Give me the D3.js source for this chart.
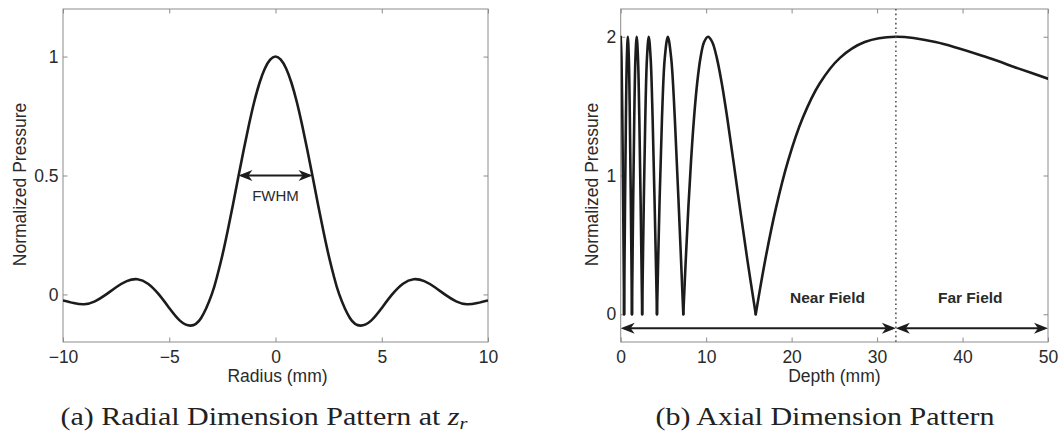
<!DOCTYPE html>
<html>
<head>
<meta charset="utf-8">
<script src="https://cdn.jsdelivr.net/npm/d3@7"></script>
<style>
    body { margin: 0; background: #fff; }
    svg { display: block; }
</style>
</head>
<body>
<script>
// (a) radial pressure profile at z_r
const radiusMm = [-10, -9.5, -9, -8.5, -8, -7.5, -7, -6.5, -6, -5.5, -5, -4.5, -4, -3.5, -3, -2.75, -2.5, -2.25, -2, -1.75, -1.5, -1.25, -1, -0.75, -0.5, -0.25,
    0, 0.25, 0.5, 0.75, 1, 1.25, 1.5, 1.75, 2, 2.25, 2.5, 2.75, 3, 3.5, 4, 4.5, 5, 5.5, 6, 6.5, 7, 7.5, 8, 8.5, 9, 9.5, 10];
const radialPressure = [-0.025, -0.036, -0.041, -0.029, -0.002, 0.03, 0.056, 0.064, 0.045, 0.001, -0.057, -0.11, -0.131, -0.099, 0, 0.075, 0.165, 0.268, 0.378, 0.494, 0.606, 0.713, 0.81, 0.89, 0.95, 0.987,
    1, 0.987, 0.95, 0.89, 0.81, 0.713, 0.606, 0.494, 0.378, 0.268, 0.165, 0.075, 0, -0.099, -0.131, -0.11, -0.057, 0.001, 0.045, 0.064, 0.056, 0.03, -0.002, -0.029, -0.041, -0.036, -0.025];
const radiusTicks = [-10, -5, 0, 5, 10];
const radialPressureTicks = [0, 0.5, 1];
const fwhmHalfWidth = 1.745;

// (b) axial pressure profile
const depthMm = [0, 0.094, 0.193, 0.294, 0.397,
    0.502, 0.61, 0.721, 0.833, 0.95, 1.07, 1.193, 1.319,
    1.451, 1.586, 1.727, 1.872, 2.022, 2.178, 2.342, 2.513,
    2.691, 2.878, 3.075, 3.282, 3.502, 3.734, 3.981, 4.245,
    4.528, 4.831, 5.159, 5.516, 5.905, 6.331, 6.802, 7.326,
    7.612, 7.914, 8.236, 8.578, 8.944, 9.337, 9.76, 10.216, 10.709, 11.246, 11.831, 12.47, 13.173, 13.954, 14.826, 15.803,
    16.907, 18.163, 19.61, 21.294, 23.281, 25.658, 28.559, 32.181, 36.831, 43.017, 46.5, 50];
const axialPressure = [2, 1.848, 1.414, 0.765, 0,
    0.765, 1.414, 1.848, 2, 1.848, 1.414, 0.765, 0,
    0.765, 1.414, 1.848, 2, 1.848, 1.414, 0.765, 0,
    0.765, 1.414, 1.848, 2, 1.848, 1.414, 0.765, 0,
    0.765, 1.414, 1.848, 2, 1.848, 1.414, 0.765, 0,
    0.39, 0.765, 1.111, 1.414, 1.663, 1.848, 1.962, 2, 1.962, 1.848, 1.663, 1.414, 1.111, 0.765, 0.39, 0,
    0.39, 0.765, 1.111, 1.414, 1.663, 1.848, 1.962, 2, 1.962, 1.848, 1.772, 1.698];
const depthTicks = [0, 10, 20, 30, 40, 50];
const axialPressureTicks = [0, 1, 2];
const nearFieldLimit = 32.2;
const fieldArrowLevel = -0.1;
const fieldNames = ["Near Field", "Far Field"];

const captionA = "(a) Radial Dimension Pattern at ";
const captionB = "(b) Axial Dimension Pattern";

const SANS = "'Liberation Sans', Arial, Helvetica, sans-serif";
const SERIF = "'Liberation Serif', 'Times New Roman', serif";
const INK = "#1c1c1c",
    FRAME = "#8c8c8c",
    LABEL = "#2a2a2a";
const FONT = 17.5;

const svg = d3.select("body").append("svg").attr("width", 1059).attr("height", 434);

const panelA = { left: 63, right: 488, top: 9, bottom: 342 };
const panelB = { left: 620.7, right: 1048, top: 9, bottom: 342 };

const xA = d3.scaleLinear().domain([-10, 10]).range([panelA.left, panelA.right]);
const yA = d3.scaleLinear().domain([-0.2, 1.2]).range([panelA.bottom, panelA.top]);
const xB = d3.scaleLinear().domain([0, 50]).range([panelB.left, panelB.right]);
const yB = d3.scaleLinear().domain([-0.2, 2.2]).range([panelB.bottom, panelB.top]);

const defs = svg.append("defs");

// swept-back arrow head, like the matlab annotation arrows
defs.append("marker")
    .attr("id", "head")
    .attr("markerUnits", "userSpaceOnUse")
    .attr("viewBox", "-15 -7 16 14")
    .attr("refX", -3)
    .attr("refY", 0)
    .attr("markerWidth", 16)
    .attr("markerHeight", 14)
    .attr("orient", "auto-start-reverse")
    .append("path")
    .attr("d", "M0,0 L-14,-5.5 L-10,0 L-14,5.5 Z")
    .attr("fill", INK);

const clip = (id, p) =>
    defs.append("clipPath").attr("id", id)
        .append("rect")
        .attr("x", p.left).attr("y", p.top)
        .attr("width", p.right - p.left).attr("height", p.bottom - p.top);
clip("clipA", panelA);
clip("clipB", panelB);

const addText = (x, y, str, size, opts = {}) =>
    svg.append("text")
        .attr("transform", `translate(${x},${y})${opts.rotate ? " rotate(-90)" : ""}`)
        .attr("text-anchor", "middle")
        .attr("font-family", opts.family || SANS)
        .attr("font-size", size)
        .attr("font-weight", opts.weight || "normal")
        .attr("fill", opts.fill || LABEL)
        .text(str);

const drawFrame = (p, x, y, xTicks, yTicks) => {
    const g = svg.append("g");
    const tick = 4.5;
    g.append("g").attr("transform", `translate(0,${p.bottom})`)
        .call(d3.axisBottom(x).tickValues(xTicks).tickSize(-tick).tickPadding(8.6).tickFormat(d3.format("")));
    g.append("g").attr("transform", `translate(0,${p.top})`)
        .call(d3.axisTop(x).tickValues(xTicks).tickSize(-tick).tickFormat(""));
    g.append("g").attr("transform", `translate(${p.left},0)`)
        .call(d3.axisLeft(y).tickValues(yTicks).tickSize(-tick).tickPadding(4.5).tickFormat(d3.format("")));
    g.append("g").attr("transform", `translate(${p.right},0)`)
        .call(d3.axisRight(y).tickValues(yTicks).tickSize(-tick).tickFormat(""));
    g.selectAll(".domain").remove();
    g.selectAll(".tick line").attr("stroke", FRAME);
    g.selectAll(".tick text")
        .attr("fill", LABEL)
        .attr("font-family", SANS)
        .attr("font-size", FONT);
    g.append("rect")
        .attr("x", p.left).attr("y", p.top)
        .attr("width", p.right - p.left).attr("height", p.bottom - p.top)
        .attr("fill", "none")
        .attr("stroke", FRAME)
        .attr("stroke-width", 1);
};

drawFrame(panelA, xA, yA, radiusTicks, radialPressureTicks);
drawFrame(panelB, xB, yB, depthTicks, axialPressureTicks);

// ---- (a) radial curve
const radialLine = d3.line()
    .x((d) => xA(d[0]))
    .y((d) => yA(d[1]))
    .curve(d3.curveNatural);

svg.append("path")
    .datum(radiusMm.map((r, i) => [r, radialPressure[i]]))
    .attr("clip-path", "url(#clipA)")
    .attr("d", radialLine)
    .attr("fill", "none")
    .attr("stroke", INK)
    .attr("stroke-width", 2.6);

// FWHM arrow
svg.append("line")
    .attr("x1", xA(-fwhmHalfWidth) + 3).attr("x2", xA(fwhmHalfWidth) - 3)
    .attr("y1", yA(0.5)).attr("y2", yA(0.5))
    .attr("stroke", INK)
    .attr("stroke-width", 2)
    .attr("marker-start", "url(#head)")
    .attr("marker-end", "url(#head)");

addText(xA(0), yA(0.5) + 25, "FWHM", 15);

// ---- (b) axial curve, one path per lobe so the zeros stay sharp
const lobes = [];
let lobe = [];
depthMm.forEach((z, i) => {
    lobe.push([z, axialPressure[i]]);
    if (axialPressure[i] === 0 && lobe.length > 1) {
        lobes.push(lobe);
        lobe = [[z, 0]];
    }
});
if (lobe.length > 1) lobes.push(lobe);

const axialLine = d3.line()
    .x((d) => xB(d[0]))
    .y((d) => yB(d[1]))
    .curve(d3.curveCatmullRom.alpha(0.5));

svg.append("g")
    .attr("clip-path", "url(#clipB)")
    .selectAll("path")
    .data(lobes)
    .join("path")
    .attr("d", axialLine)
    .attr("fill", "none")
    .attr("stroke", INK)
    .attr("stroke-width", 2.6)
    .attr("stroke-linecap", "round");

// near / far field boundary
svg.append("line")
    .attr("x1", xB(nearFieldLimit)).attr("x2", xB(nearFieldLimit))
    .attr("y1", panelB.top).attr("y2", panelB.bottom)
    .attr("stroke", "#555")
    .attr("stroke-width", 1.6)
    .attr("stroke-dasharray", "1.6 3");

const fieldSpans = [[0, nearFieldLimit], [nearFieldLimit, 50]];
svg.selectAll("line.field")
    .data(fieldSpans)
    .join("line")
    .attr("class", "field")
    .attr("x1", (d) => xB(d[0]) + 3)
    .attr("x2", (d) => xB(d[1]) - 3)
    .attr("y1", yB(fieldArrowLevel))
    .attr("y2", yB(fieldArrowLevel))
    .attr("stroke", INK)
    .attr("stroke-width", 2)
    .attr("marker-start", "url(#head)")
    .attr("marker-end", "url(#head)");

addText(xB(24.2), yB(0.084), fieldNames[0], 15.5, { weight: "bold" });
addText(xB(40.9), yB(0.084), fieldNames[1], 15.5, { weight: "bold" });

// ---- axis titles
addText((panelA.left + panelA.right) / 2 + 2, 382, "Radius (mm)", FONT);
addText((panelB.left + panelB.right) / 2, 382, "Depth (mm)", FONT);
addText(26, (panelA.top + panelA.bottom) / 2 + 9, "Normalized Pressure", FONT, { rotate: true });
addText(598, (panelB.top + panelB.bottom) / 2 + 9, "Normalized Pressure", FONT, { rotate: true });

// ---- captions (latex-ish serif, a bit wide)
const capA = addText(264, 425, captionA, 25, { family: SERIF, fill: "#222" })
    .attr("transform", "translate(264,425) scale(1.2,1)");
capA.append("tspan").attr("font-style", "italic").text("z");
capA.append("tspan").attr("font-style", "italic").attr("font-size", 17).attr("dy", 4).text("r");

addText(825, 425, captionB, 25, { family: SERIF, fill: "#222" })
    .attr("transform", "translate(825,425) scale(1.2,1)");
</script>
</body>
</html>
